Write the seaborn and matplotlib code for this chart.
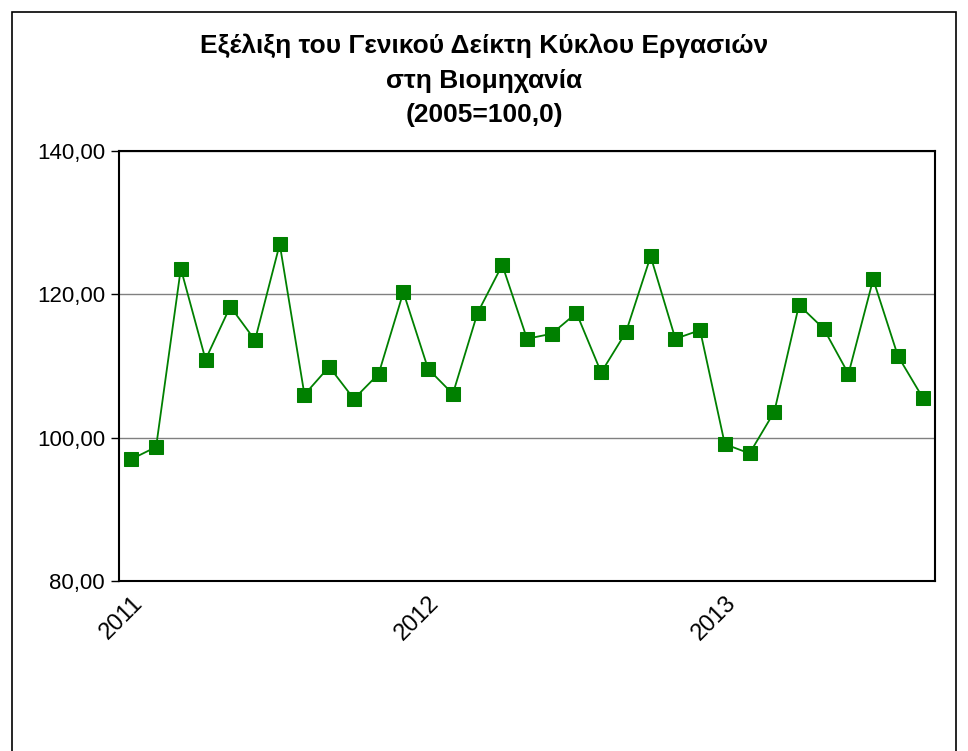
# Recreates the Greek industry turnover index chart (2005=100,0), monthly 2011-2013.

import matplotlib

matplotlib.use("Agg")

import matplotlib.pyplot as plt
import pandas as pd
import seaborn as sns
from matplotlib.patches import Rectangle
from matplotlib.ticker import FuncFormatter

# Monthly index values, Jan 2011 .. Sep 2013
months = list(range(33))
index_values = [
    97.0, 98.7, 123.6, 110.9, 118.3, 113.6, 127.0, 106.0, 109.9, 105.4, 108.9, 120.3,
    109.6, 106.1, 117.4, 124.1, 113.8, 114.5, 117.4, 109.1, 114.7, 125.3, 113.8, 115.0,
    99.1, 97.8, 103.6, 118.5, 115.2, 108.9, 122.1, 111.4, 105.6,
]
year_positions = [0, 12, 24]
year_labels = ["2011", "2012", "2013"]
y_ticks = [80, 100, 120, 140]

TITLE = "Εξέλιξη του Γενικού Δείκτη Κύκλου Εργασιών\nστη Βιομηχανία\n(2005=100,0)"
GREEN = "#008000"

df = pd.DataFrame({"month": months, "index": index_values})

sns.set_style("white")
plt.rcParams["font.family"] = ["Liberation Sans", "DejaVu Sans"]
plt.rcParams["text.color"] = "black"

fig = plt.figure(figsize=(9.68, 7.51), dpi=100)
ax = fig.add_axes([119 / 968, 1 - 581 / 751, (935 - 119) / 968, (581 - 151) / 751])

sns.lineplot(
    data=df,
    x="month",
    y="index",
    ax=ax,
    color=GREEN,
    linewidth=1.3,
    marker="s",
    markersize=10,
    markeredgecolor=GREEN,
    zorder=3,
)

# Axes range and gridlines
ax.set_xlim(-0.5, len(months) - 0.5)
ax.set_ylim(80, 140)
ax.set_yticks(y_ticks)
ax.yaxis.set_major_formatter(FuncFormatter(lambda v, _: f"{v:.2f}".replace(".", ",")))
ax.yaxis.grid(True, color="#808080", linewidth=1.0)
ax.xaxis.grid(False)
ax.set_axisbelow(True)

# Year labels on January, small tick marks between months
ax.set_xticks(year_positions)
ax.set_xticklabels(year_labels, rotation=45, ha="right", va="top", rotation_mode="anchor")
ax.set_xticks([m - 0.5 for m in months] + [months[-1] + 0.5], minor=True)
ax.tick_params(axis="x", which="major", length=0, pad=8, labelsize=17, labelcolor="black")
ax.tick_params(axis="x", which="minor", length=6, width=1, color="black", direction="out")
ax.tick_params(axis="y", which="major", length=6, width=1, color="black", direction="out",
               labelsize=16, labelcolor="black", pad=4, left=True)

for spine in ax.spines.values():
    spine.set_visible(True)
    spine.set_color("black")
    spine.set_linewidth(1.5)

ax.set_xlabel("")
ax.set_ylabel("")

fig.text(484 / 968, 1 - 34 / 751, TITLE, ha="center", va="top", fontsize=19,
         fontweight="bold", linespacing=1.55, color="black")

# Outer chart border
fig.patches.append(Rectangle((12 / 968, -0.02), (956 - 12) / 968, 1 - 12 / 751 + 0.02,
                             transform=fig.transFigure, fill=False, edgecolor="black",
                             linewidth=1.2, clip_on=False))

fig.savefig("out.png", dpi=100)
plt.close(fig)
